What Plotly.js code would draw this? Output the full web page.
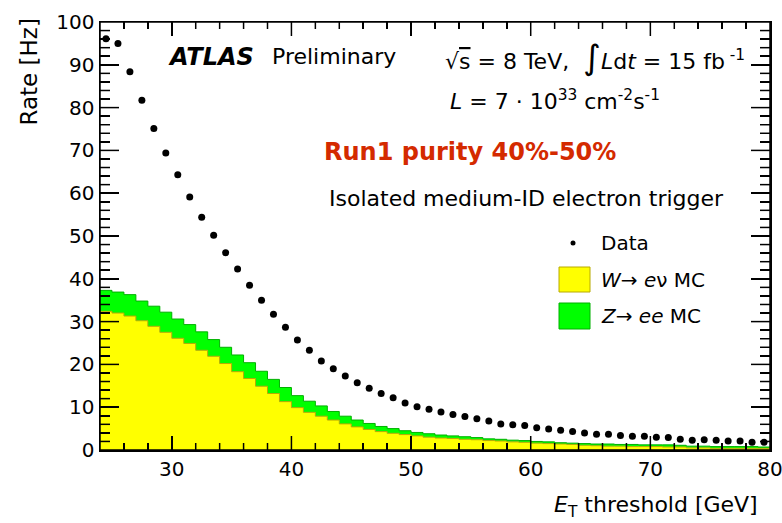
<!DOCTYPE html>
<html>
<head>
<meta charset="utf-8">
<script src="https://cdn.plot.ly/plotly-3.0.1.min.js"></script>
<style>
  html, body { margin: 0; padding: 0; background: #fff; }
  #chart { width: 782px; height: 523px; }
  #below { height: 40px; }
</style>
</head>
<body>
<div id="chart"></div>
<div id="below"></div>
<script>
// Lower edges of the 1 GeV wide E_T threshold bins, and the last upper edge
const binLowEdges = [24,25,26,27,28,29,30,31,32,33,34,35,36,37,38,39,40,41,42,43,44,45,46,47,48,49,
  50,51,52,53,54,55,56,57,58,59,60,61,62,63,64,65,66,67,68,69,70,71,72,73,74,75,76,77,78,79];
const binUpperEdge = 80;

// Measured trigger rate [Hz], one value per bin
const dataRate = [96.1,95.0,88.4,81.7,75.1,69.4,64.3,59.1,54.4,50.2,46.1,42.3,38.5,35.0,31.7,28.7,
  25.7,23.3,20.8,19.0,17.3,15.7,14.4,13.2,12.2,11.0,10.1,9.5,8.9,8.3,7.8,7.3,6.8,6.1,5.9,5.7,
  5.2,4.9,4.6,4.3,4.0,3.7,3.7,3.4,3.2,3.2,3.0,2.9,2.5,2.3,2.4,2.3,2.1,2.1,1.8,1.8];

// W -> e nu MC expectation [Hz]
const wenuRate = [32.4,32.0,31.3,30.2,28.9,27.5,26.1,24.9,23.3,21.9,20.2,18.3,16.7,14.9,13.2,11.3,
  9.9,8.8,7.9,7.0,6.1,5.4,4.8,4.3,3.9,3.6,3.3,3.0,2.8,2.7,2.5,2.4,2.2,2.1,1.9,1.8,
  1.6,1.5,1.4,1.3,1.1,1.0,0.9,0.9,0.8,0.8,0.8,0.7,0.7,0.5,0.5,0.4,0.4,0.4,0.4,0.4];

// Z -> ee MC expectation [Hz], stacked on top of W
const zeeRate = [4.9,4.9,5.0,4.6,4.7,4.7,4.5,4.4,4.3,3.9,3.8,3.9,3.7,3.5,3.3,3.3,
  2.8,2.6,2.4,2.0,1.8,1.6,1.4,1.2,1.1,0.9,0.8,0.8,0.7,0.6,0.6,0.5,0.4,0.4,0.4,0.4,
  0.4,0.4,0.3,0.3,0.4,0.4,0.5,0.4,0.5,0.4,0.4,0.5,0.4,0.4,0.4,0.4,0.4,0.4,0.4,0.3];

const xTickVals = [30,40,50,60,70,80];
const yTickVals = [0,10,20,30,40,50,60,70,80,90,100];
const xRange = [24, 80], yRange = [0, 100];
const xMinorStep = 2, yMinorStep = 2;

// Step outline: bin edges with the last bin content repeated at the upper edge
const stepX = binLowEdges.concat([binUpperEdge]);
const stepY = v => v.concat([v[v.length - 1]]);
const binCentres = binLowEdges.map(e => e + 0.5);

const FONT = 'DejaVu Sans, Arial, sans-serif';

// Plot frame in pixels, used to place the text blocks
const M = { l: 100, r: 12, t: 22, b: 73 };
const W = 782, H = 523;
const PW = W - M.l - M.r, PH = H - M.t - M.b;
const px = x => (x - M.l) / PW;
const py = y => (H - M.b - y) / PH;
const xFrac = v => (v - xRange[0]) / (xRange[1] - xRange[0]);
const yFrac = v => (v - yRange[0]) / (yRange[1] - yRange[0]);

const traces = [
  {
    type: 'scatter', mode: 'lines', name: 'W',
    x: stepX, y: stepY(wenuRate), stackgroup: 'mc',
    line: { shape: 'hv', color: '#b8aa00', width: 1 },
    fillcolor: '#ffff00', hoverinfo: 'skip'
  },
  {
    type: 'scatter', mode: 'lines', name: 'Z',
    x: stepX, y: stepY(zeeRate), stackgroup: 'mc',
    line: { shape: 'hv', color: '#00b000', width: 1 },
    fillcolor: '#00ff00', hoverinfo: 'skip'
  },
  {
    type: 'scatter', mode: 'markers', name: 'Data',
    x: binCentres, y: dataRate,
    marker: { color: '#000', size: 7 }
  }
];

const ann = (x, y, text, opts) => Object.assign({
  xref: 'paper', yref: 'paper', x: px(x), y: py(y), text: text,
  showarrow: false, xanchor: 'left', yanchor: 'middle',
  font: { family: FONT, size: 22, color: '#000' }
}, opts || {});

const annotations = [
  ann(166, 57, '<b><i>ATLAS</i></b>', { font: { family: FONT, size: 24, color: '#000' } }),
  ann(270, 57, 'Preliminary'),
  ann(443, 57, '√<span style="text-decoration:overline">s</span> = 8 TeV,  <span style="font-size:34px">∫</span><i>L</i>d<i>t</i> = 15 fb<sup> -1</sup>'),
  ann(448, 100, '<i>L</i> = 7 · 10<sup>33</sup> cm<sup>-2</sup>s<sup>-1</sup>'),
  ann(322, 152, '<b>Run1 purity 40%-50%</b>', { font: { family: FONT, size: 24, color: '#d42a00' } }),
  ann(327, 199, 'Isolated medium-ID electron trigger'),
  ann(599, 243, 'Data', { font: { family: FONT, size: 20, color: '#000' } }),
  ann(599, 280, '<i>W</i>→ <i>e</i>ν MC', { font: { family: FONT, size: 20, color: '#000' } }),
  ann(599, 316, '<i>Z</i>→ <i>ee</i> MC', { font: { family: FONT, size: 20, color: '#000' } }),
  // axis titles
  ann(760, 507, '<i>E</i><sub>T</sub> threshold [GeV]', { xanchor: 'right' }),
  ann(29, 17, 'Rate [Hz]', { xanchor: 'center', yanchor: 'top', textangle: -90, font: { family: FONT, size: 23, color: '#000' } })
];

// Frame and tick marks on all four sides as thin filled bars in paper units
const T = 1.5;
const tw = T / 2 / PW, th = T / 2 / PH;
const bar = (x0, x1, y0, y1) =>
  ({ type: 'rect', xref: 'paper', yref: 'paper', x0, x1, y0, y1, fillcolor: '#000', line: { width: 0 }, layer: 'above' });

const shapes = [
  bar(-tw, 1 + tw, -th, th),
  bar(-tw, 1 + tw, 1 - th, 1 + th),
  bar(-tw, tw, -th, 1 + th),
  bar(1 - tw, 1 + tw, -th, 1 + th)
];
for (let v = xRange[0] + xMinorStep; v < xRange[1]; v += xMinorStep) {
  const f = xFrac(v), h = (xTickVals.includes(v) ? 14 : 7) / PH;
  shapes.push(bar(f - tw, f + tw, 0, h), bar(f - tw, f + tw, 1 - h, 1));
}
for (let v = yRange[0] + yMinorStep; v < yRange[1]; v += yMinorStep) {
  const f = yFrac(v), w = (yTickVals.includes(v) ? 19 : 10) / PW;
  shapes.push(bar(0, w, f - th, f + th), bar(1 - w, 1, f - th, f + th));
}

// legend markers
shapes.push(
  { type: 'circle', xref: 'paper', yref: 'paper', x0: px(570.5), x1: px(575.5), y0: py(245.5), y1: py(240.5),
    fillcolor: '#000', line: { width: 0 } },
  { type: 'rect', xref: 'paper', yref: 'paper', x0: px(559), x1: px(590), y0: py(292), y1: py(267),
    fillcolor: '#ffff00', line: { color: '#b8aa00', width: 1 } },
  { type: 'rect', xref: 'paper', yref: 'paper', x0: px(559), x1: px(590), y0: py(329), y1: py(303),
    fillcolor: '#00ff00', line: { color: '#00b000', width: 1 } }
);

const axisBase = {
  showline: true, linecolor: '#000', linewidth: 1.5, mirror: 'allticks',
  ticks: 'inside', tickwidth: 1.5, tickcolor: '#000',
  tickmode: 'array', showgrid: false, zeroline: false,
  tickfont: { family: FONT, size: 20, color: '#000' }
};

const layout = {
  width: W, height: H,
  margin: M,
  paper_bgcolor: '#fff', plot_bgcolor: '#fff',
  showlegend: false,
  xaxis: Object.assign({}, axisBase, {
    range: xRange, tickvals: xTickVals, ticklen: 14, ticklabeloverflow: 'allow',
    minor: { dtick: xMinorStep, tick0: 0, ticklen: 7, tickwidth: 1.5, tickcolor: '#000', ticks: 'inside' }
  }),
  yaxis: Object.assign({}, axisBase, {
    range: yRange, tickvals: yTickVals, ticklen: 19,
    minor: { tickmode: 'linear', dtick: yMinorStep, tick0: 0, ticklen: 10, tickwidth: 1.5, tickcolor: '#000', ticks: 'inside' }
  }),
  annotations: annotations,
  shapes: shapes
};

Plotly.newPlot('chart', traces, layout, { displayModeBar: false, staticPlot: true });
</script>
</body>
</html>
